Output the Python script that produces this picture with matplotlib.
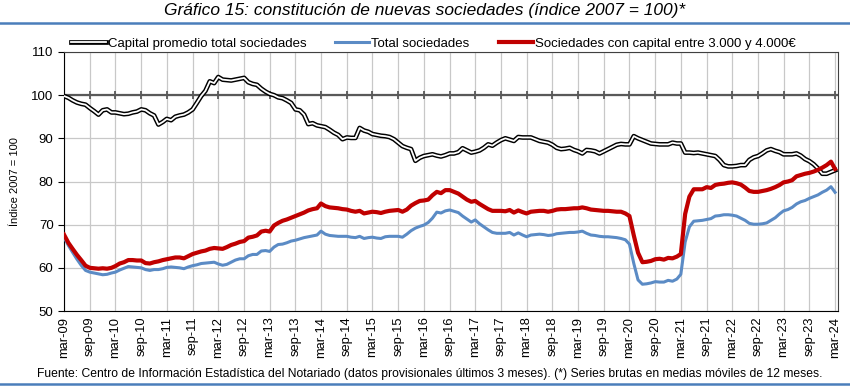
import numpy as np
import pandas as pd
import matplotlib
matplotlib.use('Agg')
import matplotlib.pyplot as plt

# monthly series, mar-09 .. mar-24 (each row = mar..feb)
capital_promedio = [
    99.8, 99.4, 98.8, 98.3, 98.0, 97.8, 97.0, 96.3, 95.5, 96.5, 96.7, 96.0,
    96.0, 95.8, 95.6, 95.7, 96.0, 96.2, 96.7, 96.5, 95.8, 95.3, 93.2, 93.8,
    94.5, 94.2, 95.0, 95.3, 95.5, 96.0, 96.7, 98.2, 99.8, 101.0, 103.2, 102.8,
    104.2, 103.6, 103.5, 103.4, 103.6, 103.8, 104.0, 103.0, 102.6, 102.4, 101.5, 100.8,
    100.3, 100.0, 99.5, 99.3, 98.8, 98.2, 96.7, 96.5, 95.5, 93.3, 93.5, 93.0,
    92.8, 92.6, 92.0, 91.3, 90.8, 89.8, 90.2, 90.1, 90.1, 92.4, 91.8, 91.5,
    91.0, 90.8, 90.6, 90.5, 90.3, 89.8, 89.0, 88.2, 87.8, 87.5, 84.8, 85.5,
    85.9, 86.1, 86.3, 86.0, 85.8, 86.1, 86.5, 86.5, 86.8, 87.7, 87.2, 86.7,
    86.9, 87.2, 87.8, 88.6, 88.3, 89.0, 89.6, 90.0, 89.7, 89.4, 90.3, 90.2,
    90.2, 90.2, 89.8, 89.4, 89.2, 89.0, 88.5, 87.8, 87.5, 87.6, 87.8, 87.3,
    87.0, 86.5, 87.3, 87.2, 87.0, 86.5, 87.0, 87.5, 88.0, 88.5, 88.7, 88.6,
    88.6, 90.5, 90.0, 89.6, 89.2, 88.8, 88.7, 88.6, 88.6, 88.6, 89.0, 88.8,
    88.8, 86.7, 86.7, 86.6, 86.7, 86.5, 86.3, 86.1, 85.9, 85.0, 83.8, 83.5,
    83.5, 83.6, 83.8, 83.8, 85.0, 85.6, 85.9, 86.5, 87.2, 87.5, 87.1, 86.8,
    86.3, 86.3, 86.3, 86.5, 86.0, 85.2, 84.7, 84.0, 83.0, 81.8, 81.8, 82.2,
    82.6]

total_sociedades = [
    67.1, 65.2, 63.6, 62.0, 60.6, 59.4, 59.0, 58.8, 58.6, 58.4, 58.5, 58.8,
    59.0, 59.5, 59.9, 60.3, 60.2, 60.1, 60.0, 59.6, 59.4, 59.6, 59.6, 59.8,
    60.1, 60.2, 60.1, 60.0, 59.8, 60.2, 60.5, 60.7, 61.0, 61.1, 61.2, 61.3,
    60.9, 60.6, 60.8, 61.3, 61.8, 62.1, 62.1, 62.8, 63.1, 63.1, 63.9, 64.0,
    63.8, 64.8, 65.4, 65.5, 65.8, 66.2, 66.4, 66.7, 67.0, 67.2, 67.4, 67.6,
    68.5, 67.8, 67.5, 67.4, 67.3, 67.3, 67.3, 67.1, 67.0, 67.3, 66.8, 67.0,
    67.1, 66.9, 66.8, 67.2, 67.3, 67.3, 67.3, 67.1, 67.8, 68.6, 69.2, 69.6,
    69.9, 70.5, 71.5, 72.9, 72.7, 73.2, 73.4, 73.1, 72.8, 72.0, 71.3, 70.6,
    71.1, 70.2, 69.5, 68.8, 68.2, 68.0, 68.0, 68.0, 68.2, 67.6, 68.1, 67.6,
    67.2, 67.6, 67.7, 67.8, 67.7, 67.5, 67.6, 67.9, 68.0, 68.1, 68.2, 68.2,
    68.3, 68.5, 68.0, 67.6, 67.5, 67.3, 67.2, 67.2, 67.1, 67.0, 66.8, 66.5,
    65.5, 61.0, 57.2, 56.2, 56.3, 56.5, 56.8, 56.7, 56.7, 57.1, 56.9, 57.4,
    58.5, 66.0, 69.5, 70.8, 70.9, 71.0, 71.2, 71.4, 72.0, 72.1, 72.3, 72.3,
    72.2, 72.0, 71.5, 71.0, 70.3, 70.1, 70.1, 70.2, 70.4, 71.0, 71.6, 72.5,
    73.2, 73.5, 74.0, 74.8, 75.3, 75.6, 76.1, 76.5, 76.9, 77.5, 78.0, 78.8,
    77.5]

capital_3000_4000 = [
    67.7, 65.8, 64.4, 63.0, 61.8, 60.5, 60.0, 59.9, 59.8, 59.9, 59.8, 60.0,
    60.4, 61.0, 61.3, 61.8, 61.8, 61.7, 61.7, 61.1, 61.0, 61.3, 61.5, 61.8,
    62.0, 62.2, 62.4, 62.4, 62.2, 62.7, 63.2, 63.5, 63.8, 64.0, 64.4, 64.6,
    64.5, 64.4, 64.8, 65.3, 65.6, 66.0, 66.2, 67.0, 67.2, 67.5, 68.4, 68.6,
    68.4, 69.8, 70.4, 70.9, 71.2, 71.6, 72.0, 72.4, 72.8, 73.3, 73.6, 73.8,
    74.9, 74.3, 74.0, 73.9, 73.8, 73.6, 73.5, 73.2, 73.0, 73.2, 72.6, 72.8,
    73.0, 72.9, 72.7, 73.0, 73.2, 73.3, 73.4, 73.0, 73.5, 74.4, 75.0, 75.5,
    75.6, 75.8, 76.8, 77.6, 77.3, 78.0, 78.0, 77.6, 77.2, 76.5, 75.8, 75.3,
    75.5, 74.8, 74.2, 73.6, 73.2, 73.2, 73.2, 73.1, 73.4, 72.8, 73.3, 72.9,
    72.6, 73.0, 73.1, 73.2, 73.2, 73.0, 73.2, 73.5, 73.6, 73.6, 73.7, 73.8,
    73.8, 74.0, 73.8, 73.5, 73.4, 73.3, 73.2, 73.2, 73.1, 73.0, 73.0, 72.6,
    72.0, 67.5, 63.5, 61.3, 61.4, 61.6, 62.0, 62.1, 61.9, 62.3, 62.2, 62.6,
    63.2, 72.5, 76.5, 78.2, 78.2, 78.2, 78.7, 78.5, 79.2, 79.4, 79.5, 79.7,
    79.8, 79.6, 79.3, 78.6, 77.8, 77.6, 77.6, 77.8, 78.0, 78.3, 78.7, 79.2,
    79.8, 80.0, 80.3, 81.2, 81.5, 81.8, 82.0, 82.3, 82.7, 83.2, 83.8, 84.6,
    82.9]

meses = {3: 'mar', 9: 'sep'}
fechas = pd.date_range('2009-03-01', periods=len(capital_promedio), freq='MS')

plt.rcParams['font.family'] = ['Liberation Sans', 'DejaVu Sans']

fig = plt.figure(figsize=(8.5, 3.86), dpi=100)
ax = fig.add_axes([64/850, 1-311/386, (838-64)/850, (311-52)/386])

ticks = fechas[::6]
ax.set_xticks(ticks)
ax.set_xticklabels(['%s-%02d' % (meses[d.month], d.year % 100) for d in ticks],
                   rotation=90, fontsize=9.3)
ax.set_xlim(fechas[0], fechas[-1] + pd.Timedelta(days=21))
ax.set_ylim(50, 110)
ax.set_yticks(range(50, 111, 10))
ax.tick_params(axis='y', labelsize=9.5, length=4, color='black')
ax.tick_params(axis='x', length=0, pad=4)
ax.grid(True, color='#c8c8c8', lw=0.9)
ax.set_axisbelow(True)
for s in ax.spines.values():
    s.set_color('#404040')
ax.spines['left'].set_color('black')
ax.spines['bottom'].set_color('black')

# linea de referencia en 100 con marcas
ax.axhline(100, color='#595959', lw=1.6, zorder=1)
ax.plot(ticks, [100]*len(ticks), ls='none', marker='|', ms=6, mew=1.3,
        color='#595959', zorder=1)

l_b1, = ax.plot(fechas, capital_promedio, color='black', lw=3.4, zorder=3,
                solid_joinstyle='round')
l_b2, = ax.plot(fechas, capital_promedio, color='white', lw=1.3, zorder=4,
                solid_joinstyle='round')
l_azul, = ax.plot(fechas, total_sociedades, color='#5b8bc5', lw=2.2, zorder=3)
l_rojo, = ax.plot(fechas, capital_3000_4000, color='#c00000', lw=3.0, zorder=4)

ax.set_ylabel('Índice 2007 = 100', fontsize=8, labelpad=8)

fig.legend([(l_b1, l_b2), l_azul, l_rojo],
           ['Capital promedio total sociedades', 'Total sociedades',
            'Sociedades con capital entre 3.000 y 4.000€'],
           loc='center', bbox_to_anchor=(0.51, 1-44/386), ncol=3,
           frameon=False, fontsize=9.5, handlelength=2.6, handletextpad=0.15,
           columnspacing=2.2)

fig.text(0.5, 1-11/386, 'Gráfico 15: constitución de nuevas sociedades (índice 2007 = 100)*',
         ha='center', va='center', fontsize=12.5, style='italic')
fig.add_artist(plt.Line2D([0, 1], [1-23/386, 1-23/386], color='#4a7ebb', lw=1.8))
fig.add_artist(plt.Line2D([0, 1], [1-384/386, 1-384/386], color='#4a7ebb', lw=1.8))
fig.text(37/850, 1-374/386,
         'Fuente: Centro de Información Estadística del Notariado (datos provisionales últimos 3 meses). '
         '(*) Series brutas en medias móviles de 12 meses.',
         ha='left', va='center', fontsize=8.7)

fig.savefig('out.png', dpi=100)
